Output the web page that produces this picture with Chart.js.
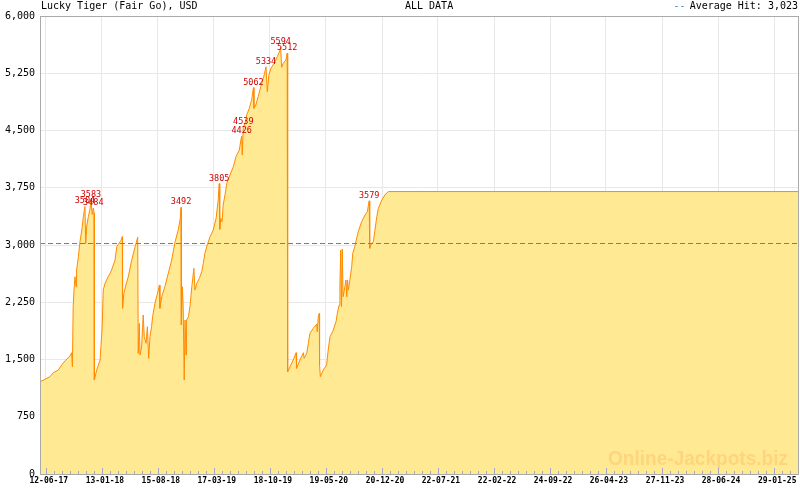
<!DOCTYPE html>
<html>
<head>
<meta charset="utf-8">
<script src="https://cdn.jsdelivr.net/npm/chart.js@4.4.1/dist/chart.umd.min.js"></script>
<style>
  html, body { margin: 0; padding: 0; background: #fff; }
  canvas { display: block; }
</style>
</head>
<body>
<canvas id="jackpotChart" width="800" height="490"></canvas>
<script>
// day 0 = 21 May 2017
const startDate = Date.UTC(2017, 4, 21);
const lastDay = 2905;

const days = [0, 13, 38, 51, 70, 83, 96, 115, 121, 124, 127, 131, 134, 138, 140, 147, 153, 160, 166, 172,
  175, 179, 185, 191, 195, 200, 204, 207, 208, 217, 230, 238, 242, 249, 261, 268, 274, 287, 294, 300,
  310, 315, 316, 321, 329, 338, 351, 364, 374, 376, 380, 383, 389, 395, 399, 406, 411, 416, 421, 427,
  431, 440, 453, 457, 459, 466, 478, 491, 504, 517, 529, 537, 540, 541, 545, 548, 552, 555, 559, 561,
  568, 574, 581, 584, 589, 593, 600, 610, 619, 625, 631, 640, 651, 663, 674, 682, 686, 688, 692, 697,
  701, 708, 715, 727, 740, 750, 763, 769, 772, 774, 778, 785, 791, 801, 810, 817, 819, 826, 835, 845,
  855, 865, 870, 876, 884, 896, 908, 918, 921, 925, 931, 941, 946, 948, 957, 969, 980, 982, 995, 1008,
  1011, 1021, 1027, 1033, 1046, 1059, 1061, 1065, 1069, 1070, 1073, 1084, 1097, 1103, 1110, 1120, 1133, 1138, 1145, 1148,
  1151, 1154, 1157, 1160, 1167, 1171, 1174, 1177, 1180, 1186, 1193, 1197, 1205, 1209, 1218, 1231, 1244, 1253, 1256, 1260,
  1262, 1266, 1276, 1282, 1289, 1295, 1308, 1320, 1333, 2905];

const hits = [1209, 1231, 1275, 1327, 1362, 1428, 1484, 1546, 1589, 1406, 2192, 2454, 2585, 2454, 2672, 2847, 3043, 3196, 3371, 3504,
  3020, 3250, 3371, 3458, 3583, 3400, 3484, 3420, 1231, 1362, 1493, 1930, 2410, 2498, 2585, 2629, 2672, 2803, 2978, 3010,
  3060, 3109, 2171, 2367, 2476, 2585, 2803, 2978, 3101, 1581, 1974, 1559, 1668, 2083, 1799, 1712, 1930, 1516, 1799, 1930,
  2061, 2236, 2410, 2476, 2171, 2323, 2454, 2629, 2803, 3043, 3196, 3350, 3492, 1952, 2454, 2192, 1231, 2017, 1559, 2017,
  2061, 2192, 2454, 2541, 2694, 2410, 2498, 2563, 2650, 2760, 2891, 3000, 3109, 3196, 3350, 3589, 3805, 3206, 3350, 3305,
  3524, 3655, 3808, 3917, 4026, 4157, 4244, 4380, 4426, 4179, 4539, 4594, 4703, 4790, 4899, 5062, 4790, 4834, 4943, 5074,
  5184, 5334, 5008, 5227, 5315, 5380, 5467, 5545, 5594, 5328, 5380, 5423, 5512, 1340, 1406, 1493, 1589, 1384, 1493, 1589,
  1516, 1581, 1712, 1843, 1909, 1965, 1864, 2061, 2105, 1428, 1275, 1362, 1428, 1624, 1799, 1864, 1995, 2105, 2214, 2498,
  2934, 2192, 2948, 2323, 2454, 2541, 2323, 2541, 2410, 2541, 2716, 2891, 2978, 3043, 3174, 3305, 3393, 3436, 3502, 3579,
  2957, 3000, 3043, 3196, 3371, 3480, 3589, 3655, 3700, 3700];

const tickLabels = ['12-06-17', '13-01-18', '15-08-18', '17-03-19', '18-10-19', '19-05-20', '20-12-20',
  '22-07-21', '22-02-22', '24-09-22', '26-04-23', '27-11-23', '28-06-24', '29-01-25'];

const peakValues = [3504, 3583, 3484, 3492, 3805, 4539, 4426, 5062, 5334, 5594, 5512, 3579];
const averageHit = 3023;

function dayOf(label) {
  const [d, m, y] = label.split('-').map(Number);
  return Math.round((Date.UTC(2000 + y, m - 1, d) - startDate) / 86400000);
}
const tickDays = tickLabels.map(dayOf);

const mono = '"DejaVu Sans Mono", monospace';

const extras = {
  id: 'extras',
  afterDatasetsDraw(chart) {
    const { ctx, chartArea: a, scales: { x, y } } = chart;
    ctx.save();

    // watermark
    ctx.font = 'bold 21px "Liberation Sans", Arial, sans-serif';
    ctx.fillStyle = '#ffd47c';
    ctx.textAlign = 'right';
    ctx.textBaseline = 'alphabetic';
    ctx.fillText('Online-Jackpots.biz', a.right - 11, a.bottom - 9, 180);

    // average line
    const ay = Math.round(y.getPixelForValue(averageHit)) + 0.5;
    ctx.strokeStyle = '#3d8fc6';
    ctx.lineWidth = 1;
    ctx.setLineDash([5, 3]);
    ctx.beginPath();
    ctx.moveTo(a.left, ay);
    ctx.lineTo(a.right, ay);
    ctx.stroke();
    ctx.setLineDash([]);

    // peak labels
    ctx.font = '8.5px ' + mono;
    ctx.fillStyle = '#d00000';
    ctx.textAlign = 'center';
    ctx.textBaseline = 'bottom';
    peakValues.forEach(v => {
      const i = hits.indexOf(v);
      if (i < 0) return;
      ctx.fillText(String(v), x.getPixelForValue(days[i]), y.getPixelForValue(v) - 1);
    });

    // inward tick marks on the time axis
    ctx.strokeStyle = '#a8a8c4';
    ctx.beginPath();
    const step = (tickDays[1] - tickDays[0]) / 7;
    for (let i = 0; i < tickDays.length; i++) {
      for (let k = 0; k < 7; k++) {
        const d = tickDays[i] + k * ((i + 1 < tickDays.length ? tickDays[i + 1] - tickDays[i] : step * 7) / 7);
        if (d > lastDay) break;
        const px = Math.round(x.getPixelForValue(d)) + 0.5;
        ctx.moveTo(px, a.bottom);
        ctx.lineTo(px, a.bottom - (k === 0 ? 6 : 3));
      }
    }
    ctx.stroke();

    // frame
    ctx.strokeStyle = '#aaaaaa';
    ctx.strokeRect(a.left + 0.5, a.top + 0.5, a.right - a.left - 1, a.bottom - a.top);

    // header
    ctx.font = '10px ' + mono;
    ctx.fillStyle = '#000';
    ctx.textBaseline = 'middle';
    ctx.textAlign = 'left';
    ctx.fillText('Lucky Tiger (Fair Go), USD', a.left + 1, 6);
    ctx.fillText('ALL DATA', 405, 6);
    ctx.textAlign = 'right';
    const avgText = 'Average Hit: ' + averageHit.toLocaleString('en-US');
    ctx.fillText(avgText, a.right - 1, 6);
    const w = ctx.measureText(avgText).width;
    ctx.fillStyle = '#3d8fc6';
    ctx.fillText('--', a.right - 1 - w - 4, 6);
    ctx.restore();
  }
};

new Chart(document.getElementById('jackpotChart'), {
  type: 'line',
  data: {
    datasets: [{
      data: days.map((d, i) => ({ x: d, y: hits[i] })),
      borderColor: '#ff8a00',
      borderWidth: 1,
      backgroundColor: '#ffe992',
      fill: 'origin',
      pointRadius: 0,
      tension: 0
    }]
  },
  options: {
    responsive: false,
    animation: false,
    layout: { padding: { top: 16, right: 1, left: 0, bottom: 0 } },
    plugins: { legend: { display: false }, tooltip: { enabled: false } },
    scales: {
      x: {
        type: 'linear',
        min: 0,
        max: lastDay,
        afterBuildTicks: s => { s.ticks = tickDays.map(v => ({ value: v })); },
        afterFit: s => { s.height = 16; },
        grid: { color: '#e8e8e8', drawTicks: false },
        border: { display: false },
        ticks: {
          font: { family: mono, size: 8, weight: 'bold' },
          color: '#000',
          padding: 2,
          maxRotation: 0,
          autoSkip: false,
          labelOffset: 3,
          callback: (v, i) => tickLabels[i]
        }
      },
      y: {
        min: 0,
        max: 6000,
        afterFit: s => { s.width = 40; },
        grid: { color: '#e8e8e8', drawTicks: false },
        border: { display: false },
        ticks: {
          stepSize: 750,
          font: { family: mono, size: 10 },
          color: '#000',
          padding: 5,
          callback: v => v.toLocaleString('en-US')
        }
      }
    }
  },
  plugins: [extras]
});
</script>
</body>
</html>
